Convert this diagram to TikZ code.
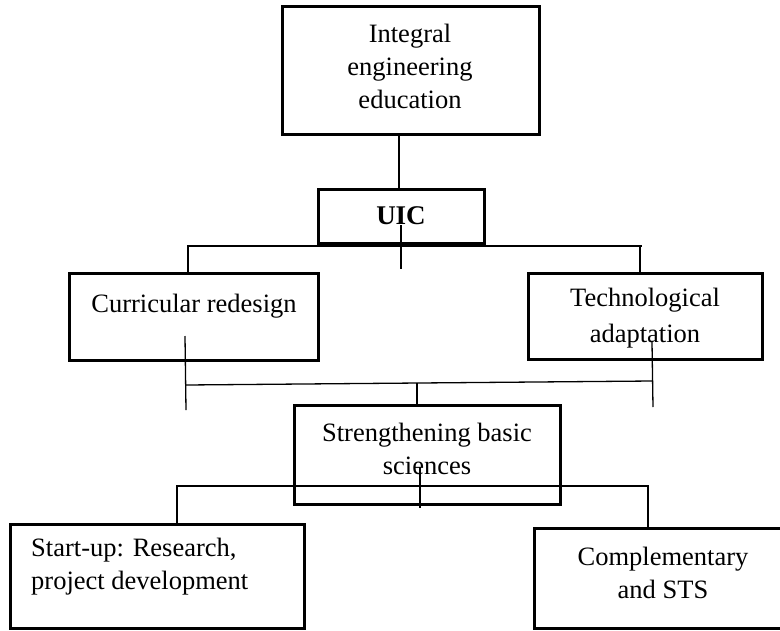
\documentclass[tikz,border=0pt]{standalone}
\usepackage{fontspec}
\setmainfont{Liberation Serif}
\begin{document}
\begin{tikzpicture}[x=1pt,y=-1pt,
  box/.style={draw,line width=3pt,inner sep=0pt},
  conn/.style={draw,line width=1.3pt},
  lbl/.style={font=\fontsize{26.5}{33}\selectfont,align=center,inner sep=0pt}]
\useasboundingbox (0,0) rectangle (780,630);
\clip (0,0) rectangle (780,630);
% boxes
\node[box,minimum width=257pt,minimum height=128pt] (top) at (410.5,70) {};
\node[box,minimum width=166pt,minimum height=54pt] (uic) at (401,216) {};
\node[box,minimum width=249pt,minimum height=87pt] (cur) at (193.5,316.5) {};
\node[box,minimum width=234pt,minimum height=86pt] (tech) at (645,316) {};
\node[box,minimum width=266pt,minimum height=99pt] (str) at (427,454.5) {};
\node[box,minimum width=294pt,minimum height=104pt] (start) at (157,576) {};
\node[box,minimum width=266pt,minimum height=100pt] (comp) at (667,578) {};
% texts
\node[lbl] (ttop) at (410,66) {Integral\\engineering\\education};
\node[lbl,font=\fontsize{27}{33}\selectfont\bfseries] (tuic) at (401,216) {UIC};
\node[lbl] (tcur) at (194,306) {Curricular redesign};
\node[lbl,font=\fontsize{26.5}{36}\selectfont] (ttech) at (645,318) {Technological\\adaptation};
\node[lbl] (tstr) at (427,449) {Strengthening basic\\sciences};
\node[lbl,align=left,anchor=west] (tstart) at (31,567) {Start-up: Research,\\project development};
\node[lbl] (tcomp) at (663,573) {Complementary\\and STS};
% bus coordinates
\coordinate (b1l) at (187,246);
\coordinate (b1r) at (642,246);
\coordinate (m1t) at (401,225);
\coordinate (m1b) at (401,269);
\coordinate (b2l) at (186,385);
\coordinate (b2r) at (652,381);
\coordinate (c2t) at (185,336);
\coordinate (c2b) at (186,410);
\coordinate (t2t) at (652,342);
\coordinate (t2b) at (653,407);
\coordinate (m2) at (417,383);
\coordinate (b3l) at (176,486);
\coordinate (b3r) at (649,486);
\coordinate (m3t) at (420,467);
\coordinate (m3b) at (420,508);
% connectors
\draw[conn] (top.south -| 399,0) -- (uic.north -| 399,0);
\draw[conn] (b1l) -- (b1r);
\draw[conn] (b1l -| 188,0) -- (cur.north -| 188,0);
\draw[conn] (b1r -| 640,0) -- (tech.north -| 640,0);
\draw[conn] (m1t) -- (m1b);
\draw[conn] (c2t) -- (c2b);
\draw[conn] (b2l) -- (b2r);
\draw[conn] (t2t) -- (t2b);
\draw[conn] (m2) -- (str.north -| m2);
\draw[conn] (b3l) -- (b3r);
\draw[conn] (b3l -| 177,0) -- (start.north -| 177,0);
\draw[conn] (b3r -| 648,0) -- (comp.north -| 648,0);
\draw[conn] (m3t) -- (m3b);
\end{tikzpicture}
\end{document}
